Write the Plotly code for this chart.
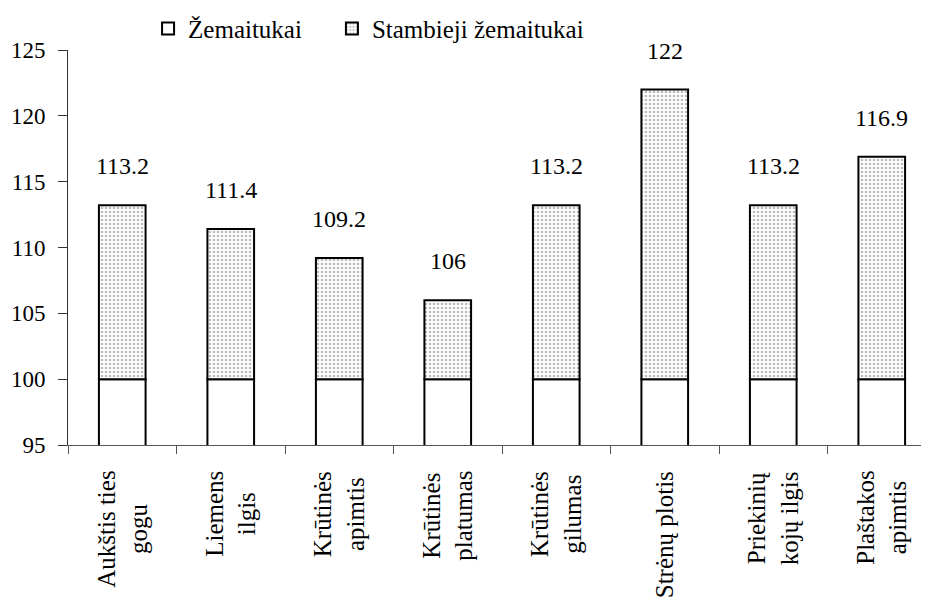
import plotly.graph_objects as go

categories = ["Aukštis ties gogu", "Liemens ilgis", "Krūtinės apimtis", "Krūtinės platumas",
              "Krūtinės gilumas", "Strėnų plotis", "Priekinių kojų ilgis", "Plaštakos apimtis"]
tick_labels = ["Aukštis ties<br>gogu", "Liemens<br>ilgis", "Krūtinės<br>apimtis", "Krūtinės<br>platumas",
               "Krūtinės<br>gilumas", "Strėnų plotis", "Priekinių<br>kojų ilgis", "Plaštakos<br>apimtis"]
series_names = ["Žemaitukai", "Stambieji žemaitukai"]
zemaitukai = [100, 100, 100, 100, 100, 100, 100, 100]
stambieji = [113.2, 111.4, 109.2, 106, 113.2, 122, 113.2, 116.9]
labels = ["113.2", "111.4", "109.2", "106", "113.2", "122", "113.2", "116.9"]

FONT = "Liberation Serif, Times New Roman, serif"

fig = go.Figure()
fig.add_trace(go.Bar(
    x=categories, y=zemaitukai, name=series_names[0] + "\u00a0" * 4,
    marker=dict(color="white", line=dict(color="black", width=2)),
))
fig.add_trace(go.Bar(
    x=categories, y=[s - z for s, z in zip(stambieji, zemaitukai)], base=zemaitukai,
    name=series_names[1],
    marker=dict(color="white", line=dict(color="black", width=2),
                pattern=dict(shape=".", fgcolor="#777777", bgcolor="white", size=4, solidity=0.35)),
))

for c, v, t in zip(categories, stambieji, labels):
    fig.add_annotation(x=c, y=v, text=t, showarrow=False, yanchor="bottom", yshift=24,
                       font=dict(family=FONT, size=24, color="black"))

for c, t in zip(categories, tick_labels):
    fig.add_annotation(x=c, y=0, yref="paper", yshift=-24, text=t, showarrow=False,
                       textangle=-90, align="center", xanchor="center", yanchor="top",
                       font=dict(family=FONT, size=25, color="black"))

fig.update_layout(
    width=921, height=591,
    margin=dict(l=60, r=0, t=42, b=154, autoexpand=False),
    plot_bgcolor="white", paper_bgcolor="white",
    barmode="overlay", bargap=0.57,
    font=dict(family=FONT, size=24, color="black"),
    showlegend=True,
    legend=dict(orientation="h", x=0.093, y=0.965, yref="container", xanchor="left", yanchor="middle",
                font=dict(family=FONT, size=25), itemwidth=30, traceorder="normal",
                bgcolor="rgba(0,0,0,0)"),
)
fig.update_xaxes(
    range=[-0.5, -0.5 + 861 / 108.5], automargin=False,
    showline=True, linecolor="#555555", linewidth=1,
    ticks="outside", ticklen=8, tickcolor="#555555", tickson="boundaries",
    showticklabels=False,
    showgrid=False, zeroline=False,
)
fig.update_yaxes(
    range=[95, 125], tickvals=[95, 100, 105, 110, 115, 120, 125], automargin=False,
    showline=True, linecolor="#333333", linewidth=1,
    ticks="outside", ticklen=9, tickcolor="#333333", ticklabelstandoff=8,
    tickfont=dict(family=FONT, size=23),
    showgrid=False, zeroline=False,
)

fig.write_html("out.html")
